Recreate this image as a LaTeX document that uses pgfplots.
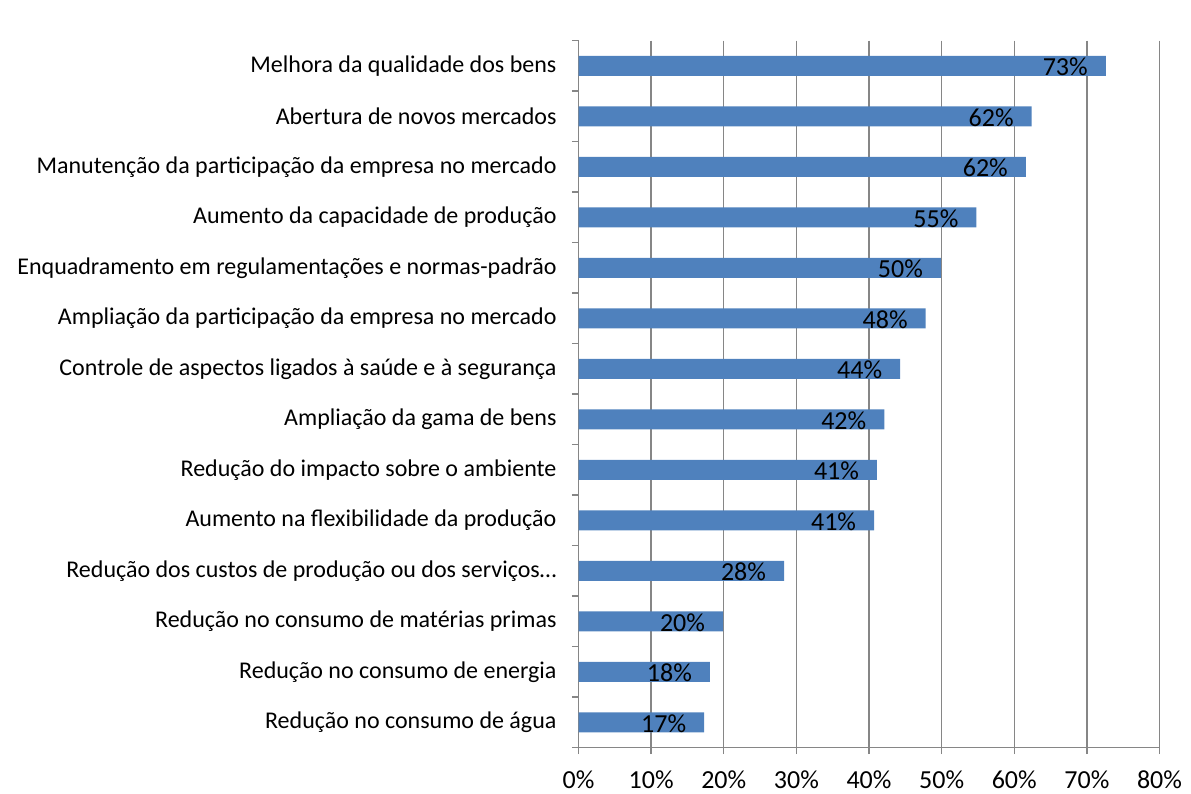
\documentclass[border=0pt]{standalone}
\usepackage{pgfplots}
\pgfplotsset{compat=1.18}
\usepackage{pgfplotstable}
\usepackage{fontspec}
\setmainfont{Carlito}
\definecolor{barblue}{HTML}{4F81BD}
\definecolor{gridgray}{HTML}{868686}
\pgfplotstableread{
idx val
0 72.6
1 62.4
2 61.6
3 54.8
4 49.9
5 47.8
6 44.3
7 42.1
8 41.1
9 40.7
10 28.3
11 19.9
12 18.1
13 17.3
}\datatable
\begin{document}
\begin{tikzpicture}
\path[use as bounding box] (0pt,0pt) rectangle (893.25pt,594.75pt);
\begin{axis}[
  at={(433.875pt,34.125pt)}, anchor=south west,
  scale only axis,
  width=435.75pt, height=530.25pt,
  xbar, bar width=15pt,
  xmin=0, xmax=80,
  ymin=-0.5, ymax=13.5,
  y dir=reverse,
  axis x line*=bottom, axis y line*=left,
  axis line style={draw=gridgray, line width=1.1pt, -},
  xtick={0,10,...,80},
  xticklabel={\pgfmathprintnumber{\tick}\%},
  /pgf/number format/assume math mode=true,
  xmajorgrids, grid style={draw=gridgray, line width=1.1pt},
  tick align=outside,
  major tick length=5pt, minor tick length=5pt,
  x tick style={draw=gridgray, line width=1.1pt},
  major y tick style={draw=none},
  minor y tick style={draw=gridgray, line width=1.1pt},
  ytick={0,...,13},
  minor ytick={-0.5,0.5,...,13.5},
  yticklabels={
    Melhora da qualidade dos bens,
    Abertura de novos mercados,
    Manutenção da participação da empresa no mercado,
    Aumento da capacidade de produção,
    Enquadramento em regulamentações e normas-padrão,
    Ampliação da participação da empresa no mercado,
    Controle de aspectos ligados à saúde e à segurança,
    Ampliação da gama de bens,
    Redução do impacto sobre o ambiente,
    Aumento na flexibilidade da produção,
    Redução dos custos de produção ou dos serviços…,
    Redução no consumo de matérias primas,
    Redução no consumo de energia,
    Redução no consumo de água},
  yticklabel style={font=\fontsize{18}{21}\selectfont, anchor=east, xshift=-8pt},
  xticklabel style={font=\fontsize{19.5}{23}\selectfont, anchor=north, yshift=-9pt},
  nodes near coords={\pgfmathprintnumber[fixed,precision=0]{\pgfplotspointmeta}\%},
  every node near coord/.append style={font=\fontsize{19.5}{23}\selectfont, anchor=east, xshift=-10pt, yshift=-1pt, text=black},
  clip=false,
]
\addplot[draw=none, fill=barblue] table[x=val, y=idx] {\datatable};
\end{axis}
\end{tikzpicture}
\end{document}
